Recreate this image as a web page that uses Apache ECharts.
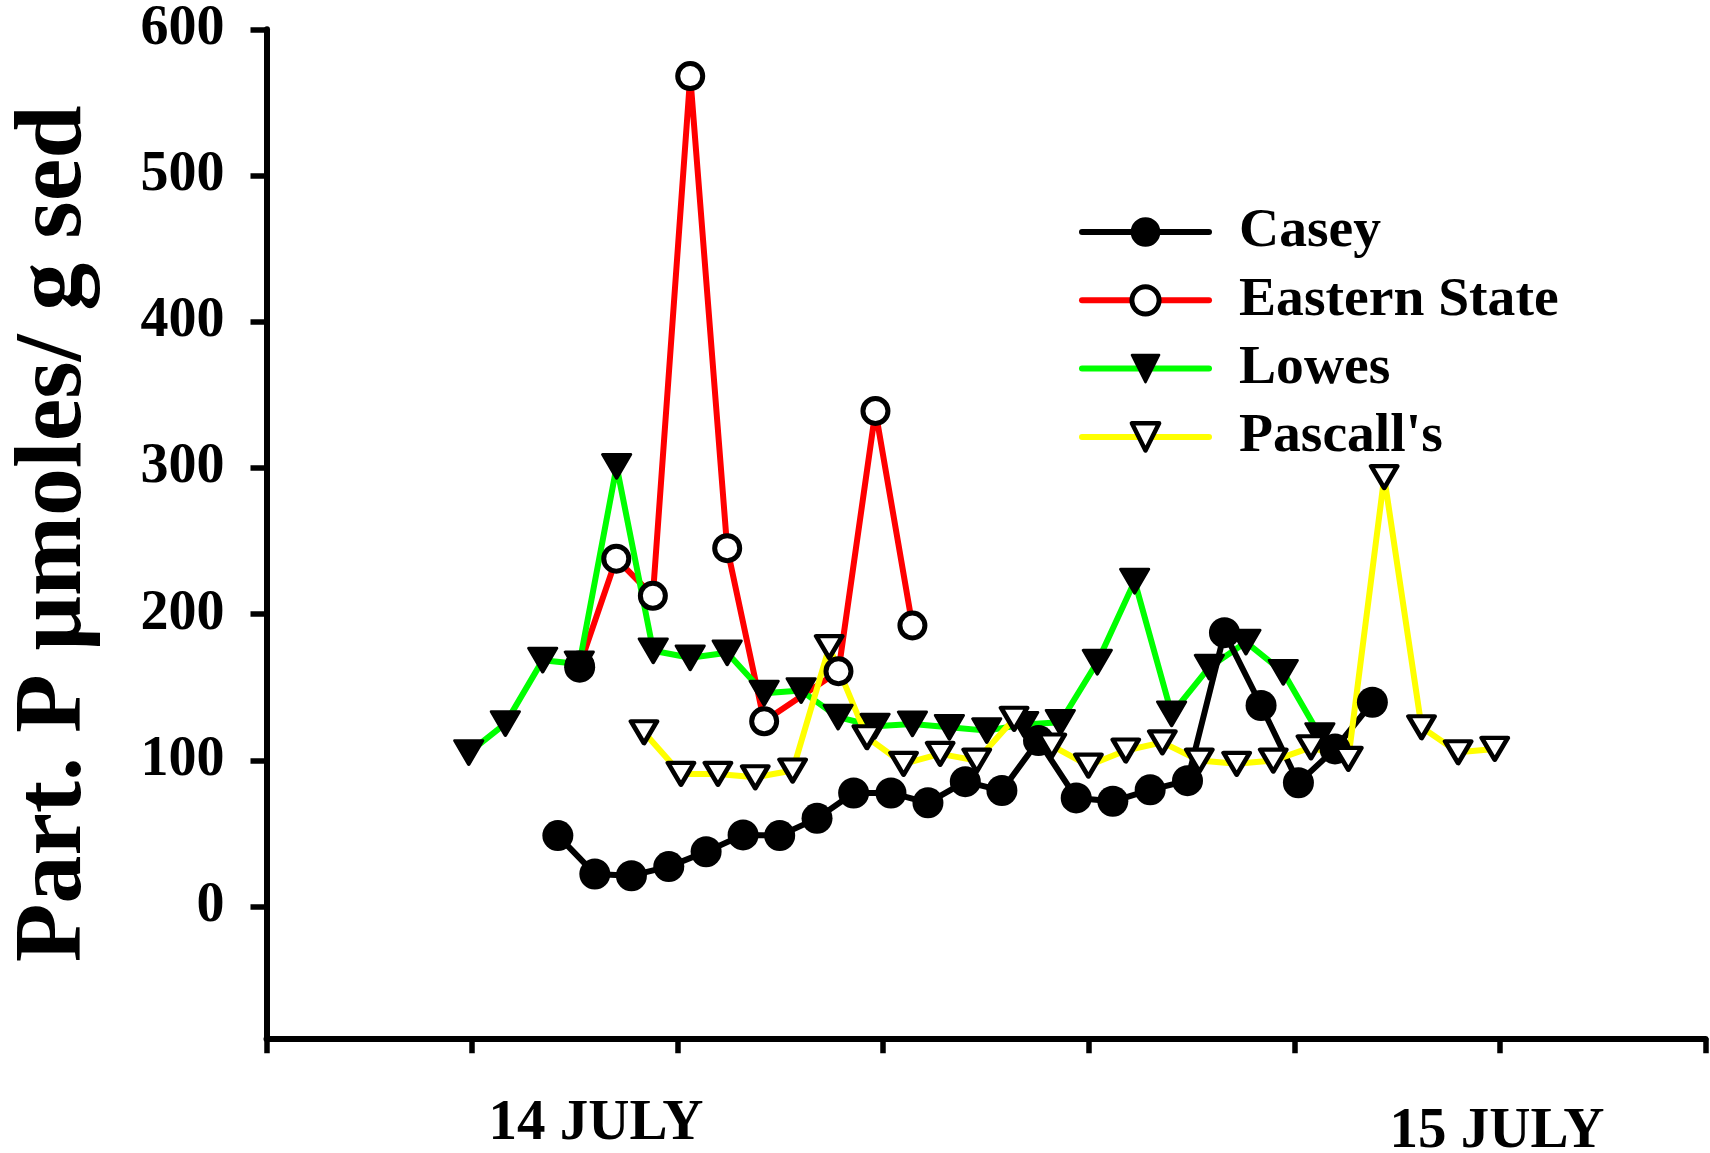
<!DOCTYPE html>
<html><head><meta charset="utf-8">
<script src="https://cdn.jsdelivr.net/npm/echarts@6/dist/echarts.min.js"></script>
<style>html,body{margin:0;padding:0;background:#fff}#c{width:1710px;height:1153px}</style>
</head><body><div id="c"></div>
<script>
// ---- data (x = hours from axis origin, y = Part. P µmoles / g sed) ----
const seriesNames = ['Casey', 'Eastern State', 'Lowes', "Pascall's"];
const yTickValues = [0, 100, 200, 300, 400, 500, 600];
const dateLabels = ['14 JULY', '15 JULY'];

const caseyIsolatedHours = [8.47];
const caseyIsolatedValues = [163.8];
const caseyHours = [7.88, 8.88, 9.87, 10.88, 11.89, 12.89, 13.88, 14.89, 15.88, 16.89, 17.89, 18.90,
  19.89, 20.88, 21.90, 22.89, 23.90, 24.91, 25.91, 26.90, 27.91, 28.90, 29.91];
const caseyValues = [48.6, 22.4, 21.2, 27.4, 37.6, 49.1, 48.6, 60.4, 77.8, 77.8, 71.0, 85.5,
  79.4, 113.6, 74.4, 72.1, 79.9, 86.2, 187.4, 137.6, 84.7, 107.9, 139.8];

const easternHours = [8.47, 9.46, 10.45, 11.46, 12.46, 13.46, 15.47, 16.47, 17.47];
const easternValues = [165.0, 238.0, 212.6, 568.0, 245.2, 126.8, 161.0, 339.0, 192.3];

const lowesHours = [5.47, 6.46, 7.47, 8.46, 9.47, 10.46, 11.46, 12.46, 13.46, 14.46, 15.46, 16.46,
  17.47, 18.47, 19.48, 20.48, 21.47, 22.47, 23.48, 24.48, 25.50, 26.49, 27.50, 28.49];
const lowesValues = [105.4, 125.2, 168.6, 166.0, 301.1, 175.0, 170.2, 173.6, 146.0, 147.8, 129.6, 123.4,
  125.0, 122.7, 120.4, 124.6, 126.1, 167.2, 222.6, 131.9, 163.8, 180.9, 160.3, 117.0];

const pascallHours = [10.21, 11.21, 12.21, 13.22, 14.23, 15.22, 16.24, 17.23, 18.22, 19.21, 20.22, 21.24,
  22.23, 23.24, 24.23, 25.23, 26.24, 27.23, 28.25, 29.26, 30.23, 31.24, 32.23, 33.22];
const pascallValues = [119.3, 90.8, 90.8, 88.5, 93.1, 177.5, 115.9, 97.7, 104.5, 99.9, 128.5, 110.2,
  96.5, 106.8, 112.4, 99.9, 97.7, 99.9, 109.0, 101.1, 293.8, 122.7, 105.6, 107.9];

// ---- build ----
const zip = (xs, ys) => xs.map((x, i) => [x, ys[i]]);
const caseyData = zip(caseyIsolatedHours, caseyIsolatedValues).concat([null], zip(caseyHours, caseyValues));

const FONT = "'Liberation Serif', 'Times New Roman', serif";
const TICK_H = 5.56;       // hours between x ticks
const dateLabelPos = [[596, 1124], [1497, 1132]];
const LW = 6;

const chart = echarts.init(document.getElementById('c'), null, {renderer: 'canvas'});
const lineCommon = {type: 'line', showSymbol: true, showAllSymbol: true, animation: false, silent: true,
  emphasis: {disabled: true}, clip: false};

chart.setOption({
  animation: false,
  backgroundColor: '#fff',
  grid: {left: 266.5, right: 4.5, top: 29.3, bottom: 114.7, containLabel: false, outerBoundsMode: 'none'},
  xAxis: {
    type: 'value', min: 0, max: TICK_H * 7, interval: TICK_H,
    axisLine: {show: true, onZero: false, lineStyle: {color: '#000', width: 6}},
    axisTick: {show: true, length: 15, lineStyle: {color: '#000', width: 5.5}},
    axisLabel: {show: false}, splitLine: {show: false}
  },
  yAxis: {
    type: 'value', min: -90, max: 600,
    axisLine: {show: true, onZero: false, lineStyle: {color: '#000', width: 6}},
    axisTick: {show: true, length: 16, customValues: yTickValues, lineStyle: {color: '#000', width: 5.5}},
    axisLabel: {customValues: yTickValues, margin: 42, fontSize: 56, fontWeight: 'bold', fontFamily: FONT, color: '#000'},
    splitLine: {show: false},
    name: 'Part. P μmoles/ g sed', nameLocation: 'middle', nameGap: 163.5,
    nameTextStyle: {fontSize: 96, fontWeight: 'bold', fontFamily: FONT, color: '#000'}
  },
  legend: {
    orient: 'vertical', left: 1074, top: 199, itemWidth: 127, itemHeight: 34, itemGap: 12.3,
    selectedMode: false,
    textStyle: {fontSize: 55.6, fontWeight: 'bold', fontFamily: FONT, color: '#000', padding: [0, 0, 0, 25]},
    data: [
      {name: seriesNames[0], itemStyle: {borderWidth: 2.5, borderColor: '#000'}, lineStyle: {width: LW}},
      {name: seriesNames[1], itemStyle: {borderWidth: 5, borderColor: '#000'}, lineStyle: {width: LW}},
      {name: seriesNames[2], itemStyle: {borderWidth: 2.5, borderColor: '#000'}, lineStyle: {width: LW}},
      {name: seriesNames[3], itemStyle: {borderWidth: 4.5, borderColor: '#000'}, lineStyle: {width: LW}}
    ]
  },
  graphic: dateLabels.map((t, i) => ({
    type: 'text', x: dateLabelPos[i][0], y: dateLabelPos[i][1], silent: true,
    style: {text: t, textAlign: 'center', textVerticalAlign: 'middle', fontSize: 57, fontWeight: 'bold', fontFamily: FONT, fill: '#000'}
  })),
  series: [
    Object.assign({}, lineCommon, {
      name: seriesNames[1], data: zip(easternHours, easternValues),
      symbol: 'circle', symbolSize: 25,
      itemStyle: {color: '#fff', borderColor: '#000', borderWidth: 5},
      lineStyle: {color: '#ff0000', width: LW, join: 'round', cap: 'round'}
    }),
    Object.assign({}, lineCommon, {
      name: seriesNames[2], data: zip(lowesHours, lowesValues),
      symbol: 'triangle', symbolRotate: 180, symbolSize: [28, 24],
      itemStyle: {color: '#000', borderColor: '#000', borderWidth: 3, borderJoin: 'round'},
      lineStyle: {color: '#00ff00', width: LW, join: 'round', cap: 'round'}
    }),
    Object.assign({}, lineCommon, {
      name: seriesNames[0], data: caseyData, connectNulls: false,
      symbol: 'circle', symbolSize: 31,
      itemStyle: {color: '#000'},
      lineStyle: {color: '#000', width: LW, join: 'round', cap: 'round'}
    }),
    Object.assign({}, lineCommon, {
      name: seriesNames[3], data: zip(pascallHours, pascallValues),
      symbol: 'triangle', symbolRotate: 180, symbolSize: [26, 22],
      itemStyle: {color: '#fff', borderColor: '#000', borderWidth: 4.5, borderJoin: 'round'},
      lineStyle: {color: '#ffff00', width: LW, join: 'round', cap: 'round'}
    })
  ]
});
</script>
</body></html>
